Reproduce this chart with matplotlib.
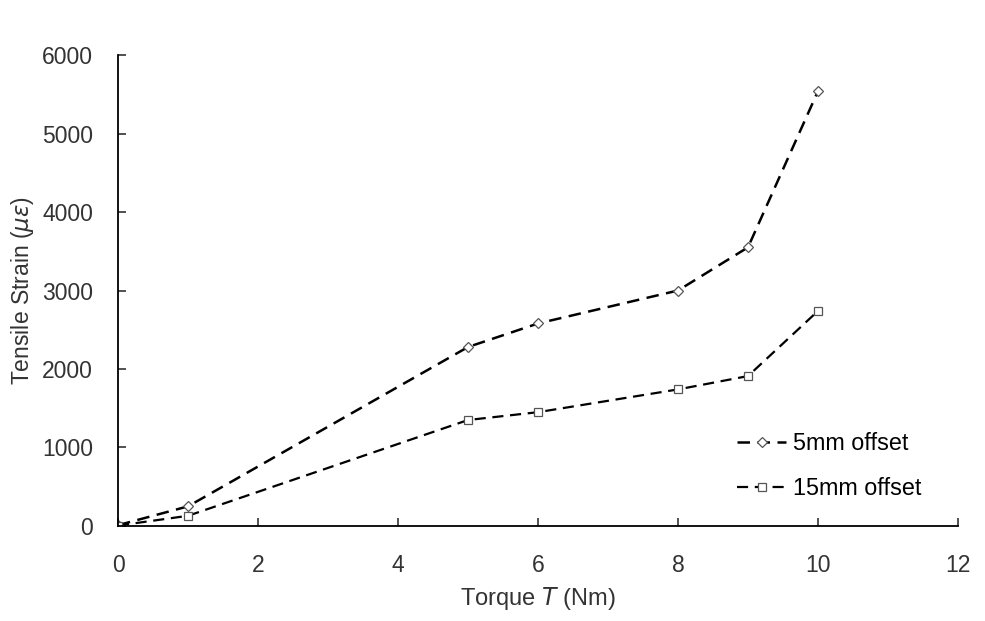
import matplotlib.pyplot as plt

plt.rcParams['font.family'] = ['Liberation Sans', 'DejaVu Sans']

# Données
torque = [0, 1, 5, 6, 8, 9, 10]
strain_5mm = [10, 250, 2280, 2580, 3000, 3550, 5540]
strain_15mm = [5, 130, 1350, 1450, 1740, 1910, 2740]

fig = plt.figure(figsize=(9.85, 6.21), dpi=100)
ax = fig.add_axes([0.1198, 0.153, 0.8528, 0.7584])

ax.plot(torque, strain_5mm, linestyle=(0, (5, 3)), color='black', lw=1.8,
        marker='D', markersize=5, markerfacecolor='white', markeredgecolor='#555555',
        markeredgewidth=0.9, label='5mm offset')
ax.plot(torque, strain_15mm, linestyle=(0, (5, 3)), color='black', lw=1.6,
        marker='s', markersize=6, markerfacecolor='white', markeredgecolor='#555555',
        markeredgewidth=0.9, label='15mm offset')

ax.set_xlim(0, 12)
ax.set_ylim(0, 6000)
ax.set_xticks(range(0, 13, 2))
ax.set_yticks(range(0, 6001, 1000))
ax.spines['top'].set_visible(False)
ax.spines['right'].set_visible(False)
ax.spines['left'].set_linewidth(1.3)
ax.spines['bottom'].set_linewidth(1.3)
ax.tick_params(direction='in', length=6, width=1.2, labelsize=16.5, colors='#333333')
ax.tick_params(axis='x', pad=20)
ax.tick_params(axis='y', pad=18)

ax.set_xlabel('Torque $T$ (Nm)', fontsize=17, labelpad=6, color='#333333')
ax.set_ylabel(r'Tensile Strain ($\mu\varepsilon$)', fontsize=16.5, labelpad=4, color='#333333')

ax.legend(loc='center left', bbox_to_anchor=(0.737, 0.127), frameon=False, fontsize=16.8,
          handlelength=2.1, handletextpad=0.3, labelspacing=0.95,
          borderpad=0, borderaxespad=0, markerscale=1.0)

plt.savefig('out.png', dpi=100)
